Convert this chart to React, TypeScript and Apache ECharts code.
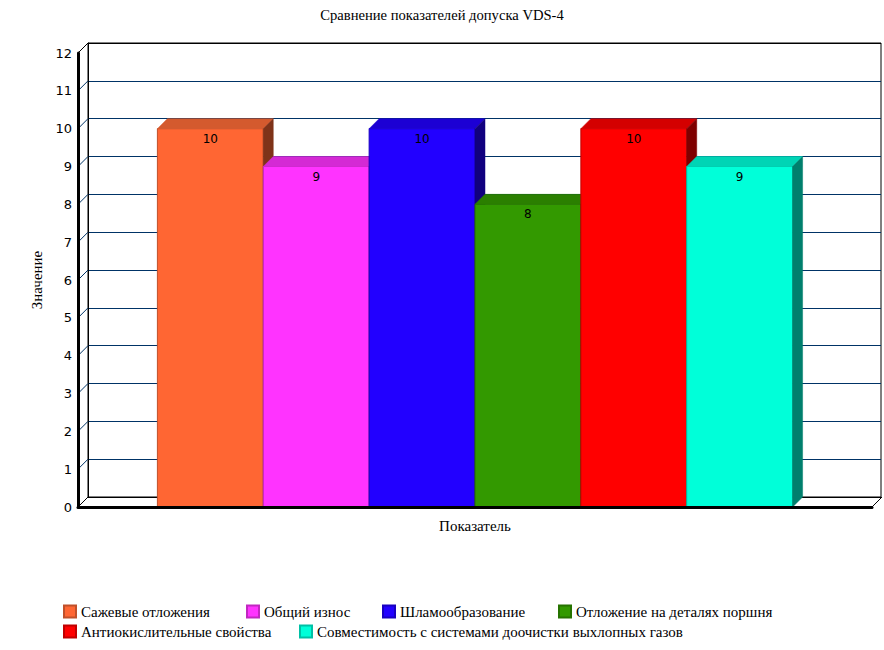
import React, { useEffect, useRef } from "react";
import * as echarts from "echarts";

const title = "Сравнение показателей допуска VDS-4";
const categories = ["Показатель"];
const seriesNames = [
  "Сажевые отложения",
  "Общий износ",
  "Шламообразование",
  "Отложение на деталях поршня",
  "Антиокислительные свойства",
  "Совместимость с системами доочистки выхлопных газов",
];
const seriesValues = [10, 9, 10, 8, 10, 9];
const tickValues = [0, 1, 2, 3, 4, 5, 6, 7, 8, 9, 10, 11, 12];

const frontColors = ["#FF6633", "#FF33FF", "#2200FF", "#339900", "#FF0000", "#00FFD9"];
const topColors = ["#D45A2E", "#D42AD4", "#1C00D4", "#2B7F00", "#D40000", "#00D4B5"];
const sideColors = ["#7F3319", "#7F197F", "#11007F", "#194C00", "#7F0000", "#007F6D"];
const edgeColors = ["#C0502A", "#C028C0", "#1800C0", "#267300", "#C00000", "#00C0A5"];

// legend item placement (left of icon, top of row)
const legendLefts = [63, 246, 382, 558, 63, 299];
const legendTops = [604, 604, 604, 604, 624, 624];

const DEPTH = 10;
const SERIF = "Liberation Serif";
const SANS = "DejaVu Sans";

export default function App() {
  const ref = useRef<HTMLDivElement>(null);

  useEffect(() => {
    if (!ref.current) return;
    const chart = echarts.init(ref.current, null, { renderer: "svg" });
    const n = seriesNames.length;

    const barSeries = seriesNames.map((name, i) => ({
      name,
      type: "custom",
      xAxisIndex: 0,
      yAxisIndex: 0,
      itemStyle: { color: frontColors[i], borderColor: edgeColors[i], borderWidth: 1 },
      data: [[0, seriesValues[i]]],
      renderItem: (params: any, api: any) => {
        const cs = params.coordSys;
        const v = api.value(1);
        const top = api.coord([api.value(0), v]);
        const base = api.coord([api.value(0), 0]);
        const cw = cs.width;
        const bw = (cw * 0.8) / n;
        const x0 = top[0] - cw * 0.4 + i * bw;
        const ty = top[1];
        const by = base[1];
        return {
          type: "group",
          children: [
            {
              type: "rect",
              shape: { x: x0, y: ty, width: bw, height: by - ty },
              style: { fill: frontColors[i], stroke: edgeColors[i], lineWidth: 1 },
            },
            {
              type: "polygon",
              shape: {
                points: [
                  [x0, ty],
                  [x0 + bw, ty],
                  [x0 + bw + DEPTH, ty - DEPTH],
                  [x0 + DEPTH, ty - DEPTH],
                ],
              },
              style: { fill: topColors[i], stroke: topColors[i], lineWidth: 0.5 },
            },
            {
              type: "polygon",
              shape: {
                points: [
                  [x0 + bw, ty],
                  [x0 + bw + DEPTH, ty - DEPTH],
                  [x0 + bw + DEPTH, by - DEPTH],
                  [x0 + bw, by],
                ],
              },
              style: { fill: sideColors[i], stroke: sideColors[i], lineWidth: 0.5 },
            },
            {
              type: "text",
              style: {
                text: String(v),
                x: x0 + bw / 2,
                y: ty + 10,
                align: "center",
                verticalAlign: "middle",
                font: `12px "${SANS}"`,
                fill: "#000",
              },
            },
          ],
        };
      },
    }));

    const connectorSeries = {
      name: "connectors",
      type: "custom",
      xAxisIndex: 0,
      yAxisIndex: 0,
      silent: true,
      z: 1,
      data: tickValues.map((t) => [0, t]),
      renderItem: (params: any, api: any) => {
        const cs = params.coordSys;
        const t = api.value(1);
        const y = api.coord([0, t])[1];
        const edge = t === 0 || t === tickValues[tickValues.length - 1];
        const children: any[] = [
          {
            type: "line",
            shape: { x1: cs.x, y1: y, x2: cs.x + DEPTH, y2: y - DEPTH },
            style: { stroke: edge ? "#000" : "#003366", lineWidth: 1 },
          },
        ];
        if (t === 0) {
          children.push({
            type: "line",
            shape: { x1: cs.x + cs.width, y1: y, x2: cs.x + cs.width + DEPTH, y2: y - DEPTH },
            style: { stroke: "#000", lineWidth: 1 },
          });
        }
        return { type: "group", children };
      },
    };

    const splitColors = tickValues.map((t, k) => (k === tickValues.length - 1 ? "#000" : "#003366"));

    const legendText = { fontFamily: SERIF, fontSize: 15, color: "#000" };

    chart.setOption({
      animation: false,
      title: {
        text: title,
        left: "center",
        top: 2,
        textStyle: { fontFamily: SERIF, fontSize: 14.6, fontWeight: "normal", color: "#000" },
      },
      legend: seriesNames.map((name, i) => ({
        data: [name],
        left: legendLefts[i],
        top: legendTops[i],
        padding: 0,
        orient: "horizontal",
        itemWidth: 12,
        itemHeight: 12,
        icon: "rect",
        textStyle: legendText,
        selectedMode: false,
      })),
      grid: [
        { left: 78, top: 53, width: 794, height: 454, containLabel: false },
        {
          left: 88,
          top: 43,
          width: 794 - 1,
          height: 454,
          containLabel: false,
          show: true,
          borderColor: "#000",
          borderWidth: 1,
          backgroundColor: "transparent",
        },
      ],
      xAxis: [
        {
          type: "category",
          gridIndex: 0,
          data: categories,
          axisLine: { show: true, lineStyle: { color: "#000", width: 3 } },
          axisTick: { show: false },
          axisLabel: { show: false },
          splitLine: { show: false },
          name: categories[0],
          nameLocation: "middle",
          nameGap: 11,
          nameTextStyle: { fontFamily: SERIF, fontSize: 15, color: "#000" },
          z: 5,
        },
        {
          type: "category",
          gridIndex: 1,
          data: categories,
          axisLine: { show: true, lineStyle: { color: "#000", width: 1 } },
          axisTick: { show: false },
          axisLabel: { show: false },
          splitLine: { show: false },
        },
      ],
      yAxis: [
        {
          type: "value",
          gridIndex: 0,
          min: 0,
          max: 12,
          interval: 1,
          axisLine: { show: true, lineStyle: { color: "#000", width: 3 } },
          axisTick: { show: false },
          axisLabel: { fontFamily: SANS, fontSize: 13, color: "#000", margin: 6 },
          splitLine: { show: false },
          name: "Значение",
          nameLocation: "middle",
          nameRotate: 90,
          nameGap: 30,
          nameTextStyle: { fontFamily: SERIF, fontSize: 15, color: "#000" },
          z: 5,
        },
        {
          type: "value",
          gridIndex: 1,
          min: 0,
          max: 12,
          interval: 1,
          axisLine: { show: true, lineStyle: { color: "#000", width: 1 } },
          axisTick: { show: false },
          axisLabel: { show: false },
          splitLine: { show: true, lineStyle: { color: splitColors, width: 1 } },
        },
      ],
      series: [connectorSeries, ...barSeries],
    });

    return () => chart.dispose();
  }, []);

  return (
    <div
      ref={ref}
      style={{ position: "absolute", left: 0, top: 0, width: 884, height: 650 }}
    />
  );
}
